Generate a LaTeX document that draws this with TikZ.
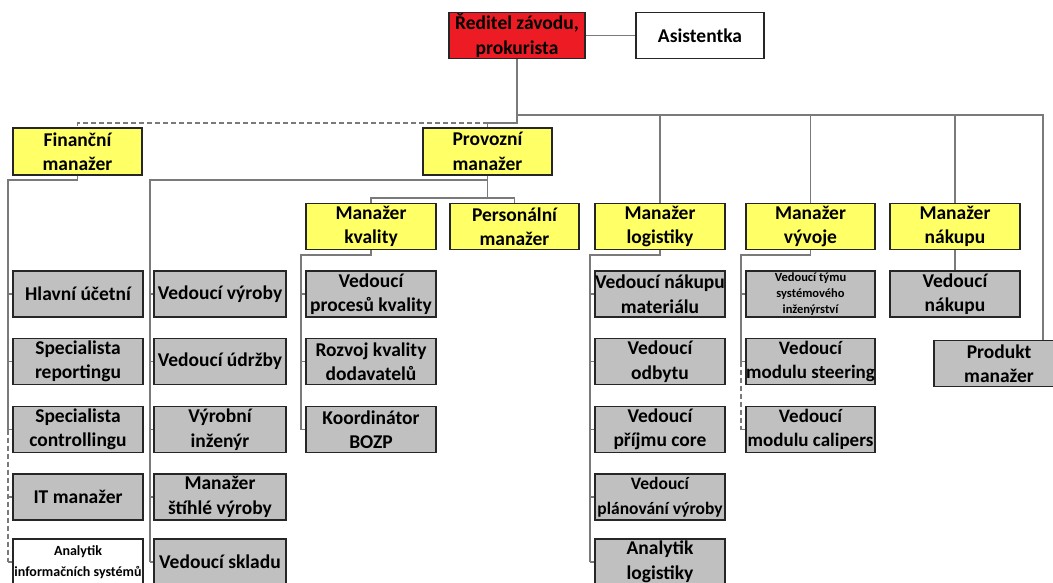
\documentclass[tikz,border=0pt]{standalone}
\usepackage{fontspec}
\setmainfont{Carlito}
\definecolor{dirred}{HTML}{ED1C24}
\definecolor{mgryel}{HTML}{FFFF66}
\definecolor{boxgray}{HTML}{C0C0C0}
\definecolor{linegray}{HTML}{7A7A7A}
\begin{document}
\begin{tikzpicture}[x=1pt,y=-1pt,
  box/.style={draw=black!85,line width=1.4pt,rectangle,inner sep=0pt,align=center,
    minimum width=130pt,minimum height=46pt,font=\fontsize{19.5}{24.5}\selectfont\bfseries},
  redbox/.style={box,fill=dirred},
  whitebox/.style={box,fill=white},
  yelbox/.style={box,fill=mgryel},
  graybox/.style={box,fill=boxgray},
  conn/.style={draw=linegray,line width=1.1pt},
  dconn/.style={conn,dashed,dash pattern=on 5pt off 3pt}]
\useasboundingbox (0,0) rectangle (1053,583);
\clip (0,0) rectangle (1053,583);
% top
\node[redbox,minimum width=136pt] (dir) at (517,35.5) {Ředitel závodu,\\prokurista};
\node[whitebox,minimum width=128pt] (asist) at (700,35.5) {Asistentka};
% level 2
\node[yelbox,minimum width=129pt,minimum height=47pt] (fin) at (77.5,151.5) {Finanční\\manažer};
\node[yelbox,minimum width=129pt,minimum height=47pt] (prov) at (487.5,151.5) {Provozní\\manažer};
\node[yelbox] (kval) at (371,226.5) {Manažer\\kvality};
\node[yelbox,minimum width=129pt] (pers) at (514.5,226.5) {Personální\\manažer};
\node[yelbox] (log) at (660,226.5) {Manažer\\logistiky};
\node[yelbox,minimum width=129pt] (vyv) at (810.5,226.5) {Manažer\\vývoje};
\node[yelbox] (nak) at (955,226.5) {Manažer\\nákupu};
% finance column
\node[graybox] (f1) at (78,294) {Hlavní účetní};
\node[graybox] (f2) at (78,361.5) {Specialista\\reportingu};
\node[graybox] (f3) at (78,429.5) {Specialista\\controllingu};
\node[graybox] (f4) at (78,497) {IT manažer};
\node[whitebox,font=\fontsize{14}{21}\selectfont\bfseries] (f5) at (78,562) {Analytik\\informačních systémů};
% production column
\node[graybox,minimum width=132pt] (p1) at (220,294) {Vedoucí výroby};
\node[graybox,minimum width=132pt] (p2) at (220,361.5) {Vedoucí údržby};
\node[graybox,minimum width=132pt] (p3) at (220,429.5) {Výrobní\\inženýr};
\node[graybox,minimum width=132pt] (p4) at (220,497) {Manažer\\štíhlé výroby};
\node[graybox,minimum width=132pt] (p5) at (220,562) {Vedoucí skladu};
% quality column
\node[graybox] (k1) at (371,294) {Vedoucí\\procesů kvality};
\node[graybox] (k2) at (371,361.5) {Rozvoj kvality\\dodavatelů};
\node[graybox] (k3) at (371,429.5) {Koordinátor\\BOZP};
% logistics column
\node[graybox] (l1) at (660,294) {Vedoucí nákupu\\materiálu};
\node[graybox] (l2) at (660,361.5) {Vedoucí\\odbytu};
\node[graybox] (l3) at (660,429.5) {Vedoucí\\příjmu core};
\node[graybox,font=\fontsize{17.5}{24.5}\selectfont\bfseries] (l4) at (660,497) {Vedoucí\\plánování výroby};
\node[graybox] (l5) at (660,562) {Analytik\\logistiky};
% development column
\node[graybox,minimum width=129pt,font=\fontsize{12.5}{16}\selectfont\bfseries] (v1) at (810.5,294) {Vedoucí týmu\\systémového\\inženýrství};
\node[graybox,minimum width=129pt,font=\fontsize{19}{24.5}\selectfont\bfseries] (v2) at (810.5,361.5) {Vedoucí\\modulu steering};
\node[graybox,minimum width=129pt,font=\fontsize{19}{24.5}\selectfont\bfseries] (v3) at (810.5,429.5) {Vedoucí\\modulu calipers};
% purchasing
\node[graybox] (n1) at (955,294) {Vedoucí\\nákupu};
\node[graybox] (prod) at (999,363.5) {Produkt\\manažer};
% connectors top
\draw[conn] (dir.east) -- (asist.west);
\coordinate (busB) at (517,115);
\coordinate (busA) at (517,123);
\coordinate (prodx) at (1043,115);
\draw[conn] (dir.south) -- (busA) -| (prov.north);
\draw[dconn] (prov.north |- busA) -| (fin.north);
\draw[conn] (busB) -| (log.north);
\draw[conn] (busB) -| (vyv.north);
\draw[conn] (busB) -| (nak.north);
\draw[conn] (busB) -- (prodx) -- (prodx |- prod.north);
% finance subtree
\coordinate (fL) at (8,180);
\draw[conn] (fin.south) |- (fL) -- (fL |- f3.west);
\draw[dconn] (fL |- f3.west) -- (fL |- f5.west);
\foreach \n in {f1,f2,f3} \draw[conn] (fL |- \n.west) -- (\n.west);
\foreach \n in {f4,f5} \draw[dconn] (fL |- \n.west) -- (\n.west);
% production subtree
\coordinate (pL) at (150,180);
\coordinate (pb) at (487.5,198);
\draw[conn] (prov.south) -- (pb);
\draw[conn] (prov.south |- pL) -- (pL) -- (pL |- p5.west);
\foreach \n in {p1,p2,p3,p4,p5} \draw[conn] (pL |- \n.west) -- (\n.west);
\draw[conn] (pb) -| (kval.north);
\draw[conn] (pb) -| (pers.north);
% quality subtree
\coordinate (kL) at (301,255);
\draw[conn] (kval.south) |- (kL) -- (kL |- k3.west);
\foreach \n in {k1,k2,k3} \draw[conn] (kL |- \n.west) -- (\n.west);
% logistics subtree
\coordinate (lL) at (590,255);
\draw[conn] (log.south) |- (lL) -- (lL |- l5.west);
\foreach \n in {l1,l2,l3,l4,l5} \draw[conn] (lL |- \n.west) -- (\n.west);
% development subtree
\coordinate (vL) at (741,255);
\draw[conn] (vyv.south) |- (vL) -- (vL |- v2.west);
\draw[dconn] (vL |- v2.west) -- (vL |- v3.west);
\foreach \n in {v1,v2} \draw[conn] (vL |- \n.west) -- (\n.west);
\draw[dconn] (vL |- v3.west) -- (v3.west);
% purchasing
\draw[conn] (nak.south) -- (n1.north);
\end{tikzpicture}
\end{document}
